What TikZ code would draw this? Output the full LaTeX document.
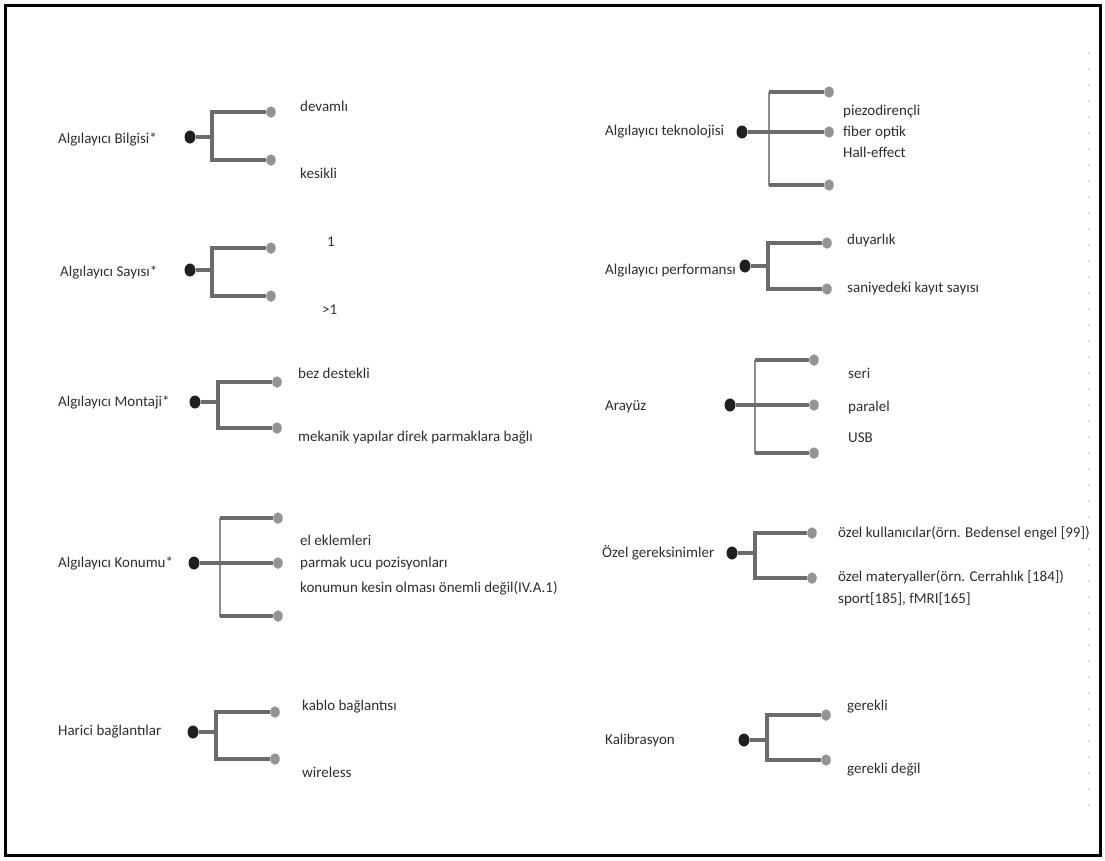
\documentclass[tikz,border=0pt]{standalone}
\usepackage{fontspec}
\setmainfont{Carlito}
\usetikzlibrary{shapes.geometric}
\tikzset{
  txt/.style={anchor=west,inner sep=0pt,text=black!82,font=\fontsize{15}{17}\selectfont},
  rootdot/.style={ellipse,fill=black!88,minimum width=11pt,minimum height=13pt,inner sep=0pt},
  leafdot/.style={ellipse,fill=black!42,minimum width=9.5pt,minimum height=11.5pt,inner sep=0pt},
  branch/.style={draw=black!58,line width=3.4pt},
  spine/.style={draw=black!45,line width=1.8pt},
  frame/.style={draw=black,line width=3pt},
  faint/.style={draw=black!15,line width=1.2pt,dash pattern=on 2pt off 14pt}
}
\begin{document}
\begin{tikzpicture}[x=1pt,y=-1pt]
\useasboundingbox (0,0) rectangle (1105,860);
\draw[frame] (5,5) rectangle (1100,855);
\coordinate (fa) at (1089,52);
\coordinate (fb) at (1089,812);
\draw[faint] (fa) -- (fb);

% ---------- G1 ----------
\node[txt] (t1) at (58,139) {Algılayıcı Bilgisi*};
\node[rootdot] (r1) at (190,137) {};
\coordinate (j1) at (212,137);
\node[leafdot] (l1a) at (271,112) {};
\node[leafdot] (l1b) at (271,160) {};
\node[txt] (x1a) at (300,106) {devamlı};
\node[txt] (x1b) at (300,173) {kesikli};
\draw[branch] (r1) -- (j1);
\draw[branch] (j1) |- (l1a);
\draw[branch] (j1) |- (l1b);

% ---------- G2 ----------
\node[txt] (t2) at (60,272) {Algılayıcı Sayısı*};
\node[rootdot] (r2) at (190,270) {};
\coordinate (j2) at (212,270);
\node[leafdot] (l2a) at (271,248) {};
\node[leafdot] (l2b) at (271,296) {};
\node[txt] (x2a) at (327,242) {1};
\node[txt] (x2b) at (322,310) {>1};
\draw[branch] (r2) -- (j2);
\draw[branch] (j2) |- (l2a);
\draw[branch] (j2) |- (l2b);

% ---------- G3 ----------
\node[txt] (t3) at (58,402) {Algılayıcı Montaji*};
\node[rootdot] (r3) at (195,402) {};
\coordinate (j3) at (218,402);
\node[leafdot] (l3a) at (277,382) {};
\node[leafdot] (l3b) at (277,428) {};
\node[txt] (x3a) at (298,373) {bez destekli};
\node[txt] (x3b) at (298,438) {mekanik yapılar direk parmaklara bağlı};
\draw[branch] (r3) -- (j3);
\draw[branch] (j3) |- (l3a);
\draw[branch] (j3) |- (l3b);

% ---------- G4 ----------
\node[txt] (t4) at (58,563) {Algılayıcı Konumu*};
\node[rootdot] (r4) at (194,563) {};
\coordinate (u4) at (220,518);
\coordinate (v4) at (220,617);
\node[leafdot] (l4a) at (278,518) {};
\node[leafdot] (l4b) at (278,563) {};
\node[leafdot] (l4c) at (278,616) {};
\node[txt] (x4a) at (300,540) {el eklemleri};
\node[txt] (x4b) at (300,563) {parmak ucu pozisyonları};
\node[txt] (x4c) at (300,588) {konumun kesin olması önemli değil(IV.A.1)};
\draw[spine] (u4) -- (v4);
\draw[branch] (r4) -- (l4b);
\draw[branch] (u4) -- (l4a);
\draw[branch] (v4 |- l4c) -- (l4c);

% ---------- G5 ----------
\node[txt] (t5) at (58,732) {Harici bağlantılar};
\node[rootdot] (r5) at (193,732) {};
\coordinate (j5) at (216,732);
\node[leafdot] (l5a) at (275,712) {};
\node[leafdot] (l5b) at (275,759) {};
\node[txt] (x5a) at (302,707) {kablo bağlantısı};
\node[txt] (x5b) at (302,772) {wireless};
\draw[branch] (r5) -- (j5);
\draw[branch] (j5) |- (l5a);
\draw[branch] (j5) |- (l5b);

% ---------- G6 ----------
\node[txt] (t6) at (605,132) {Algılayıcı teknolojisi};
\node[rootdot] (r6) at (742,132) {};
\coordinate (u6) at (769,92);
\coordinate (v6) at (769,186);
\node[leafdot] (l6a) at (829,92) {};
\node[leafdot] (l6b) at (829,132) {};
\node[leafdot] (l6c) at (829,185) {};
\node[txt] (x6a) at (843,112) {piezodirençli};
\node[txt] (x6b) at (843,132) {fiber optik};
\node[txt] (x6c) at (843,152) {Hall-effect};
\draw[spine] (u6) -- (v6);
\draw[branch] (r6) -- (l6b);
\draw[branch] (u6) -- (l6a);
\draw[branch] (v6 |- l6c) -- (l6c);

% ---------- G7 ----------
\node[txt] (t7) at (605,271) {Algılayıcı performansı};
\node[rootdot] (r7) at (745,266) {};
\coordinate (j7) at (768,266);
\node[leafdot] (l7a) at (827,243) {};
\node[leafdot] (l7b) at (827,289) {};
\node[txt] (x7a) at (847,240) {duyarlık};
\node[txt] (x7b) at (847,288) {saniyedeki kayıt sayısı};
\draw[branch] (r7) -- (j7);
\draw[branch] (j7) |- (l7a);
\draw[branch] (j7) |- (l7b);

% ---------- G8 ----------
\node[txt] (t8) at (605,407) {Arayüz};
\node[rootdot] (r8) at (730,405) {};
\coordinate (u8) at (755,360);
\coordinate (v8) at (755,454);
\node[leafdot] (l8a) at (814,360) {};
\node[leafdot] (l8b) at (814,405) {};
\node[leafdot] (l8c) at (814,453) {};
\node[txt] (x8a) at (848,373) {seri};
\node[txt] (x8b) at (848,407) {paralel};
\node[txt] (x8c) at (848,438) {USB};
\draw[spine] (u8) -- (v8);
\draw[branch] (r8) -- (l8b);
\draw[branch] (u8) -- (l8a);
\draw[branch] (v8 |- l8c) -- (l8c);

% ---------- G9 ----------
\node[txt] (t9) at (602,553) {Özel gereksinimler};
\node[rootdot] (r9) at (732,553) {};
\coordinate (j9) at (755,553);
\node[leafdot] (l9a) at (812,533) {};
\node[leafdot] (l9b) at (812,578) {};
\node[txt] (x9a) at (838,533) {özel kullanıcılar(örn. Bedensel engel [99])};
\node[txt] (x9b) at (838,577) {özel materyaller(örn. Cerrahlık [184])};
\node[txt] (x9c) at (838,599) {sport[185], fMRI[165]};
\draw[branch] (r9) -- (j9);
\draw[branch] (j9) |- (l9a);
\draw[branch] (j9) |- (l9b);

% ---------- G10 ----------
\node[txt] (t10) at (605,740) {Kalibrasyon};
\node[rootdot] (r10) at (744,740) {};
\coordinate (j10) at (767,740);
\node[leafdot] (l10a) at (826,715) {};
\node[leafdot] (l10b) at (826,760) {};
\node[txt] (x10a) at (847,707) {gerekli};
\node[txt] (x10b) at (847,770) {gerekli değil};
\draw[branch] (r10) -- (j10);
\draw[branch] (j10) |- (l10a);
\draw[branch] (j10) |- (l10b);
\end{tikzpicture}
\end{document}
